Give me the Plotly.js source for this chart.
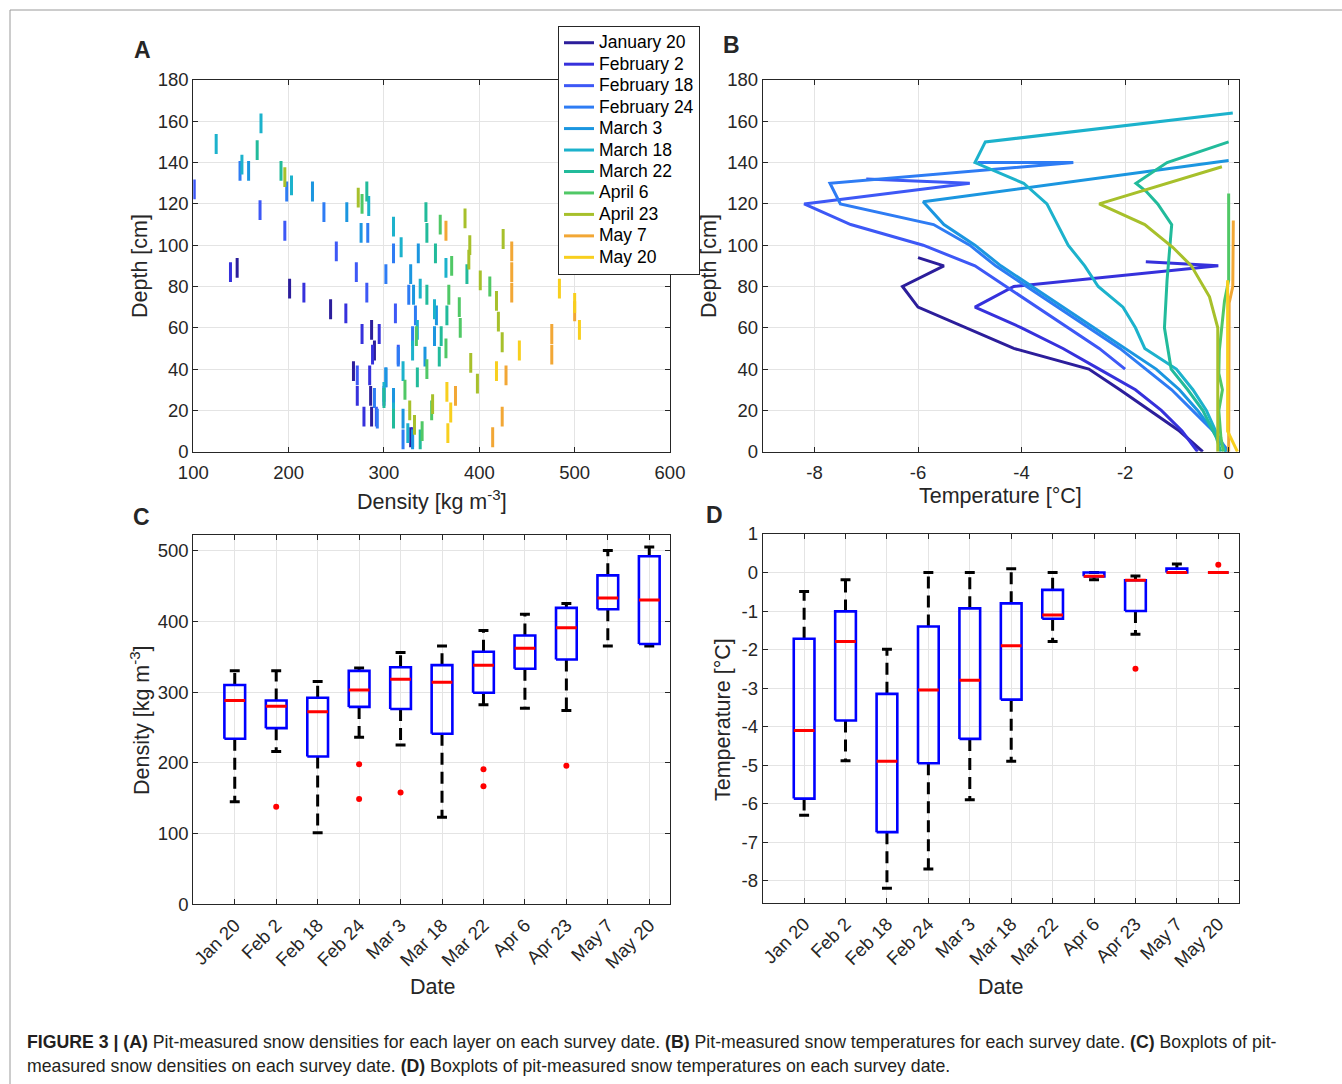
<!DOCTYPE html>
<html><head><meta charset="utf-8">
<script src="https://cdn.plot.ly/plotly-3.0.1.min.js"></script>
<style>body{margin:0;background:#fff}#chart{width:1342px;height:1084px}</style>
</head><body><div id="chart"></div>
<script>
// ---------- names ----------
const dateNames = ['January 20','February 2','February 18','February 24','March 3','March 18','March 22','April 6','April 23','May 7','May 20'];
const dateShort = ['Jan 20','Feb 2','Feb 18','Feb 24','Mar 3','Mar 18','Mar 22','Apr 6','Apr 23','May 7','May 20'];
const dateColors = ['#2c1e9b','#3631dc','#3d58f6','#2e7cf4','#1b96e0','#1cb2cc','#22bb9b','#50c866','#a7c02b','#f2a735','#f8cf1e'];

// ---------- Panel A: layer density [kg m-3] and layer centre depth [cm] ----------
const aJan20Depth = [89, 79, 69, 59, 49, 39, 27, 17, 7];
const aJan20Dens  = [146, 201, 244, 287, 290, 268, 286, 287, 328];
const aFeb2Depth  = [87, 77, 67, 57, 57, 47, 37, 27, 17, 7];
const aFeb2Dens   = [139, 216, 260, 277, 295, 288, 285, 272, 279, 330];
const aFeb18Depth = [127, 117, 107, 97, 87, 77, 67, 47, 37, 27, 17];
const aFeb18Dens  = [101, 170, 196, 250, 271, 282, 312, 315, 272, 300, 292];
const aFeb24Depth = [136, 126, 116, 106, 96, 86, 76, 66, 56, 46, 36, 26, 16, 6];
const aFeb24Dens  = [149, 198, 237, 283, 310, 302, 326, 333, 330, 315, 302, 290, 293, 320];
const aMar3Depth  = [136, 126, 116, 106, 96, 86, 76, 66, 56, 46, 36, 26, 16, 6];
const aMar3Dens   = [158, 225, 261, 276, 336, 328, 331, 355, 353, 343, 302, 310, 320, 330];
const aMar18Depth = [159, 149, 139, 129, 119, 109, 99, 89, 79, 69, 59, 49, 39, 29, 19, 9];
const aMar18Dens  = [171, 124, 151, 203, 284, 310, 318, 365, 338, 353, 335, 330, 320, 300, 310, 325];
const aMar22Depth = [146, 136, 126, 116, 106, 96, 86, 76, 66, 56, 46, 36, 26, 16, 6];
const aMar22Dens  = [167, 192, 282, 344, 345, 354, 387, 345, 366, 360, 358, 335, 300, 310, 338];
const aApr6Depth  = [120, 110, 90, 80, 76, 70, 60, 56, 50, 40, 30, 20, 10];
const aApr6Dens   = [277, 359, 371, 411, 368, 379, 380, 334, 365, 345, 322, 350, 340];
const aApr23Depth = [133, 123, 113, 103, 100, 93, 83, 73, 63, 53, 43, 33, 23, 20, 13];
const aApr23Dens  = [196, 273, 385, 425, 390, 389, 401, 418, 420, 424, 391, 398, 351, 327, 332];
const aMay7Depth  = [107, 97, 87, 77, 68, 57, 47, 37, 27, 17, 7];
const aMay7Dens   = [365, 434, 434, 434, 500, 476, 476, 428, 375, 424, 414];
const aMay20Depth = [79, 72, 59, 49, 39, 29, 19, 9];
const aMay20Dens  = [484, 500, 505, 442, 418, 366, 370, 367];

// ---------- Panel B: temperature [°C] profiles vs depth [cm] ----------
const bJan20Depth = [94, 90, 80, 70, 50, 40, 30, 10, 0];
const bJan20Temp  = [-6.0, -5.5, -6.3, -6.0, -4.15, -2.7, -2.1, -0.95, -0.5];
const bFeb2Depth  = [92, 90, 80, 70, 60, 50, 40, 30, 20, 10, 0];
const bFeb2Temp   = [-1.6, -0.2, -4.15, -4.9, -4.0, -3.2, -2.5, -1.8, -1.3, -0.9, -0.6];
const bFeb18Depth = [132, 130, 120, 110, 100, 90, 80, 70, 60, 50, 40];
const bFeb18Temp  = [-7.0, -5.0, -8.2, -7.3, -5.9, -4.9, -4.3, -3.7, -3.1, -2.5, -2.0];
const bFeb24Depth = [140, 140, 130, 120, 110, 100, 90, 80, 70, 60, 50, 40, 30, 20, 10, 0];
const bFeb24Temp  = [-4.85, -3.0, -7.7, -7.5, -5.7, -5.0, -4.5, -3.9, -3.3, -2.7, -2.1, -1.6, -1.1, -0.7, -0.3, 0.0];
const bMar3Depth  = [141, 121, 110, 100, 90, 80, 70, 60, 50, 40, 30, 20, 10, 0];
const bMar3Temp   = [0.0, -5.9, -5.5, -4.9, -4.4, -3.8, -3.2, -2.6, -2.0, -1.4, -0.95, -0.6, -0.3, -0.05];
const bMar18Depth = [164, 150, 140, 130, 120, 110, 100, 90, 80, 70, 60, 50, 40, 30, 20, 10, 0];
const bMar18Temp  = [0.08, -4.7, -4.9, -3.96, -3.51, -3.3, -3.1, -2.78, -2.52, -2.04, -1.8, -1.62, -1.01, -0.69, -0.43, -0.25, -0.05];
const bMar22Depth = [150, 140, 130, 126, 120, 110, 98, 83, 60, 40, 30, 20, 7, 0];
const bMar22Temp  = [0.0, -1.19, -1.79, -1.59, -1.37, -1.1, -1.14, -1.19, -1.24, -1.11, -0.79, -0.5, -0.24, -0.15];
const bApr6Depth  = [125, 83, 73, 59, 49, 38, 30, 20, 7, 0];
const bApr6Temp   = [0.0, 0.0, -0.08, -0.13, -0.18, -0.19, -0.12, -0.19, -0.15, -0.1];
const bApr23Depth = [138, 120, 110, 99, 90, 75, 60, 0];
const bApr23Temp  = [-0.13, -2.5, -1.62, -1.08, -0.72, -0.37, -0.21, -0.21];
const bMay7Depth  = [112, 83, 80, 72, 0];
const bMay7Temp   = [0.09, 0.09, 0.08, 0.01, 0.0];
const bMay20Depth = [83, 10, 0];
const bMay20Temp  = [-0.02, -0.02, 0.17];

// ---------- Panel C: density boxplot statistics [kg m-3] ----------
const cLower  = [145, 216, 101, 236, 225, 123, 282, 277, 274, 365, 365];
const cQ1     = [234, 249, 209, 279, 276, 241, 299, 333, 346, 417, 368];
const cMedian = [288, 280, 272, 303, 318, 314, 338, 362, 391, 433, 430];
const cQ3     = [310, 288, 292, 330, 335, 338, 357, 380, 419, 465, 492];
const cUpper  = [330, 330, 315, 334, 356, 365, 387, 410, 425, 500, 505];
const cOutCat = ['Feb 2', 'Feb 24', 'Feb 24', 'Mar 3', 'Mar 22', 'Mar 22', 'Apr 23'];
const cOutVal = [138, 198, 149, 158, 191, 167, 196];

// ---------- Panel D: temperature boxplot statistics [°C] ----------
const dLower  = [-6.3, -4.89, -8.2, -7.7, -5.9, -4.9, -1.79, -0.19, -1.6, 0.0, 0.0];
const dQ1     = [-5.87, -3.84, -6.74, -4.95, -4.32, -3.3, -1.2, -0.1, -1.0, 0.0, 0.0];
const dMedian = [-4.1, -1.79, -4.9, -3.05, -2.8, -1.9, -1.1, -0.1, -0.2, 0.0, 0.0];
const dQ3     = [-1.72, -1.01, -3.15, -1.4, -0.93, -0.8, -0.45, 0.0, -0.2, 0.1, 0.0];
const dUpper  = [-0.49, -0.19, -1.99, 0.0, 0.0, 0.1, 0.0, 0.0, -0.09, 0.22, 0.0];
const dOutCat = ['Apr 23', 'May 20'];
const dOutVal = [-2.5, 0.2];

// ---------- tick labels ----------
const tempTicksB = [-8, -6, -4, -2, 0];
const tempTicksD = [-8, -7, -6, -5, -4, -3, -2, -1, 0, 1];

// ---------- build ----------
const W = 1342, H = 1084;
const FONT = 'Liberation Sans, Arial, Helvetica, sans-serif';
const INK = '#262626';
const aDepth = [aJan20Depth,aFeb2Depth,aFeb18Depth,aFeb24Depth,aMar3Depth,aMar18Depth,aMar22Depth,aApr6Depth,aApr23Depth,aMay7Depth,aMay20Depth];
const aDens  = [aJan20Dens,aFeb2Dens,aFeb18Dens,aFeb24Dens,aMar3Dens,aMar18Dens,aMar22Dens,aApr6Dens,aApr23Dens,aMay7Dens,aMay20Dens];
const bDepth = [bJan20Depth,bFeb2Depth,bFeb18Depth,bFeb24Depth,bMar3Depth,bMar18Depth,bMar22Depth,bApr6Depth,bApr23Depth,bMay7Depth,bMay20Depth];
const bTemp  = [bJan20Temp,bFeb2Temp,bFeb18Temp,bFeb24Temp,bMar3Temp,bMar18Temp,bMar22Temp,bApr6Temp,bApr23Temp,bMay7Temp,bMay20Temp];
const LAYER_HALF = 4.8;
const hyphen = v => String(v).replace('\u2212', '-');

const traces = [];
dateNames.forEach((nm, i) => {
  const xs = [], ys = [];
  aDens[i].forEach((d, k) => { xs.push(d, d, null); ys.push(aDepth[i][k] - LAYER_HALF, aDepth[i][k] + LAYER_HALF, null); });
  traces.push({type:'scatter', mode:'lines', x:xs, y:ys, xaxis:'x', yaxis:'y',
    line:{color:dateColors[i], width:3}, showlegend:false, hoverinfo:'skip', name:nm});
});
dateNames.forEach((nm, i) => {
  traces.push({type:'scatter', mode:'lines', x:bTemp[i], y:bDepth[i], xaxis:'x2', yaxis:'y2',
    line:{color:dateColors[i], width:3},
    name:'<span style="font-size:17.5px">' + nm + '</span>', showlegend:true});
});

function boxTraces(xa, ya, lo, q1, med, q3, hi, outCat, outVal) {
  const hw = 0.25, cw = 0.12;
  const bx=[],by=[],mx=[],my=[],wx=[],wy=[],cx=[],cy=[];
  for (let i = 0; i < med.length; i++) {
    const c = i + 1;
    bx.push(c-hw,c+hw,c+hw,c-hw,c-hw,null); by.push(q1[i],q1[i],q3[i],q3[i],q1[i],null);
    mx.push(c-hw,c+hw,null); my.push(med[i],med[i],null);
    if (hi[i] > q3[i]) { wx.push(c,c,null); wy.push(q3[i],hi[i],null); }
    if (lo[i] < q1[i]) { wx.push(c,c,null); wy.push(q1[i],lo[i],null); }
    cx.push(c-cw,c+cw,null,c-cw,c+cw,null); cy.push(hi[i],hi[i],null,lo[i],lo[i],null);
  }
  const common = {type:'scatter', mode:'lines', xaxis:xa, yaxis:ya, showlegend:false, hoverinfo:'skip'};
  return [
    Object.assign({}, common, {x:wx, y:wy, line:{color:'#000', width:3, dash:'12px,7px'}}),
    Object.assign({}, common, {x:cx, y:cy, line:{color:'#000', width:3}}),
    Object.assign({}, common, {x:bx, y:by, line:{color:'#0000ff', width:2.6}}),
    Object.assign({}, common, {x:mx, y:my, line:{color:'#ff0000', width:3}}),
    {type:'scatter', mode:'markers', xaxis:xa, yaxis:ya, showlegend:false, hoverinfo:'skip',
     x: outCat.map(c => dateShort.indexOf(c) + 1), y: outVal,
     marker:{color:'#ff0000', size:6, symbol:'circle'}}
  ];
}
traces.push(...boxTraces('x3','y3', cLower, cQ1, cMedian, cQ3, cUpper, cOutCat, cOutVal));
traces.push(...boxTraces('x4','y4', dLower, dQ1, dMedian, dQ3, dUpper, dOutCat, dOutVal));

function axis(domain, range, anchor, extra) {
  return Object.assign({
    domain: domain, range: range, anchor: anchor, autorange:false,
    showgrid:true, gridcolor:'#e4e4e4', gridwidth:1, zeroline:false,
    showline:true, linecolor:INK, linewidth:1, mirror:'ticks',
    ticks:'inside', ticklen:5, tickcolor:INK, tickwidth:1,
    tickfont:{family:FONT, size:18.5, color:INK}, fixedrange:true
  }, extra || {});
}
const xL = [193.3/W, 670/W], xR = [762.7/W, 1239/W];
const yTop = [1-451.7/H, 1-80/H];
const yBotC = [1-904.3/H, 1-535/H], yBotD = [1-903/H, 1-534/H];
const catTicks = {tickmode:'array', tickvals:[1,2,3,4,5,6,7,8,9,10,11], ticktext:dateShort, tickangle:-45, ticklabelstandoff:2};

function ann(text, xpx, ypx, size, opts) {
  return Object.assign({text:text, x:xpx/W, y:1-ypx/H, xref:'paper', yref:'paper', showarrow:false,
    font:{family:FONT, size:size, color:INK}, xanchor:'center', yanchor:'middle'}, opts || {});
}
const capFont = {family:FONT, size:17.7, color:'#231f20'};

const layout = {
  width:W, height:H, margin:{l:0,r:0,t:0,b:0}, paper_bgcolor:'#fff', plot_bgcolor:'#fff',
  font:{family:FONT, color:INK},
  xaxis:  axis(xL, [100, 600], 'y',  {tickvals:[100,200,300,400,500,600], ticklabelstandoff:4}),
  yaxis:  axis(yTop, [0, 180], 'x',  {tickvals:[0,20,40,60,80,100,120,140,160,180]}),
  xaxis2: axis(xR, [-9, 0.2], 'y2', {tickmode:'array', tickvals:tempTicksB, ticktext:tempTicksB.map(hyphen), ticklabelstandoff:4}),
  yaxis2: axis(yTop, [0, 180], 'x2', {tickvals:[0,20,40,60,80,100,120,140,160,180]}),
  xaxis3: axis(xL, [0, 11.5], 'y3', catTicks),
  yaxis3: axis(yBotC, [0, 522], 'x3', {tickvals:[0,100,200,300,400,500]}),
  xaxis4: axis(xR, [0, 11.5], 'y4', catTicks),
  yaxis4: axis(yBotD, [-8.58, 1.0], 'x4', {tickmode:'array', tickvals:tempTicksD, ticktext:tempTicksD.map(hyphen)}),
  legend: {x:558/W, y:1-26/H, xanchor:'left', yanchor:'top', bgcolor:'#fff', bordercolor:INK, borderwidth:1,
           font:{family:FONT, size:14.2, color:'#000'}, tracegroupgap:0, itemwidth:30},
  shapes: [{type:'rect', xref:'paper', yref:'paper', x0:10/W, x1:1.05, y0:-0.05, y1:1-10/H,
            line:{color:'#9a9a9a', width:1}, fillcolor:'rgba(0,0,0,0)', layer:'below'}],
  annotations: [
    ann('<b>A</b>', 142, 50, 23), ann('<b>B</b>', 731, 45, 23), ann('<b>C</b>', 141, 517, 23), ann('<b>D</b>', 714, 515, 23),
    ann('Depth [cm]', 140, 266, 21.5, {textangle:-90}),
    ann('Density [kg m<sup>-3</sup>]', 432, 500, 21.5),
    ann('Depth [cm]', 709, 266, 21.5, {textangle:-90}),
    ann('Temperature [°C]', 1000, 496, 21.5),
    ann('Density [kg m<sup>-3</sup>]', 140, 720, 21.5, {textangle:-90}),
    ann('Date', 432, 987, 21.5),
    ann('Temperature [°C]', 723, 720, 21.5, {textangle:-90}),
    ann('Date', 1000, 987, 21.5),
    ann('<b>FIGURE 3 | (A)</b> Pit-measured snow densities for each layer on each survey date. <b>(B)</b> Pit-measured snow temperatures for each survey date. <b>(C)</b> Boxplots of pit-',
        25, 1042, 17.7, {xanchor:'left', font:capFont}),
    ann('measured snow densities on each survey date. <b>(D)</b> Boxplots of pit-measured snow temperatures on each survey date.',
        25, 1066, 17.7, {xanchor:'left', font:capFont})
  ]
};

Plotly.newPlot('chart', traces, layout, {staticPlot:true, displayModeBar:false});
</script>
</body></html>
